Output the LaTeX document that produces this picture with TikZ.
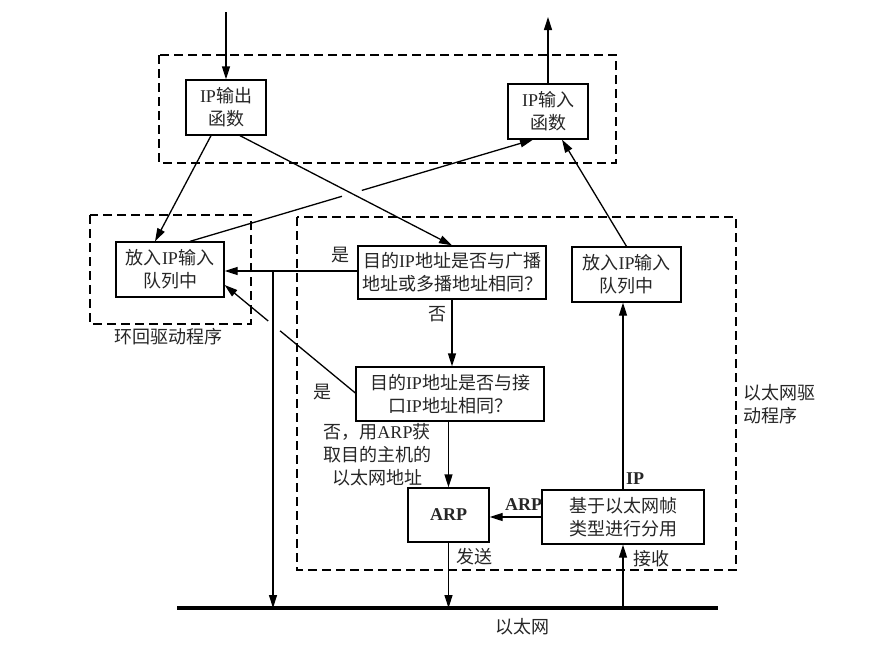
\documentclass[tikz,border=0pt]{standalone}
\usepackage{fontspec}
\setmainfont{Liberation Serif}
\newfontfamily\cjk{Noto Sans CJK SC}
\usetikzlibrary{arrows.meta,calc}
\newcommand\myL[1]{{\rmfamily #1}}
\newcommand\myB[1]{{\rmfamily\bfseries #1}}
\begin{document}
\begin{tikzpicture}[x=1pt,y=-1pt,
  every node/.style={font=\cjk\fontsize{18}{23}\selectfont},
  box/.style={draw, line width=1.3pt, inner sep=0pt, align=center, text=black!85},
  grp/.style={draw, line width=1.2pt, dash pattern=on 9pt off 5pt},
  conn/.style={line width=1.3pt},
  arr/.style={conn, -{Triangle[length=13pt,width=8pt]}},
  lbl/.style={inner sep=0pt, text=black!85},
]
\useasboundingbox[fill=white] (0,0) rectangle (890,645);

% boxes
\node[box, minimum width=80pt, minimum height=55pt] (ipout) at (226,107.5) {\myL{IP}输出\\函数};
\node[box, minimum width=80pt, minimum height=55pt] (ipin) at (548,111.5) {\myL{IP}输入\\函数};
\node[box, minimum width=108pt, minimum height=55pt] (qleft) at (170,269.5) {放入\myL{IP}输入\\队列中};
\node[box, minimum width=188pt, minimum height=53pt] (bcast) at (452,272.5) {目的\myL{IP}地址是否与广播\\地址或多播地址相同？};
\node[box, minimum width=188pt, minimum height=54pt] (iface) at (450,394) {目的\myL{IP}地址是否与接\\口\myL{IP}地址相同？};
\node[box, minimum width=109pt, minimum height=55pt] (qright) at (626.5,274.5) {放入\myL{IP}输入\\队列中};
\node[box, minimum width=81pt, minimum height=54pt] (arp) at (448.5,515) {\myB{ARP}};
\node[box, minimum width=162pt, minimum height=54pt] (demux) at (623,517) {基于以太网帧\\类型进行分用};

% free ends
\coordinate (in1) at (226,12);
\coordinate (out1) at (548,17);
\coordinate (busL) at (177,608);
\coordinate (busR) at (718,608);
\coordinate (j1) at (273,271);

% ethernet bus
\draw[line width=4pt] (busL) -- (busR);

% connectors
\draw[arr] (in1) -- (ipout.north);
\draw[arr] (ipin.north) -- (out1);
\draw[arr] ($(ipout.south)+(-15,0)$) -- ($(qleft.north)+(-15,0)$);
\draw[arr] ($(ipout.south)+(14,0)$) -- (bcast.north);
% queue -> IP input (broken where it crosses)
\coordinate (qs) at ($(qleft.north)+(20,0)$);
\coordinate (qe) at ($(ipin.south)+(-15,0)$);
\draw[conn] (qs) -- ($(qs)!0.443!(qe)$);
\draw[arr] ($(qs)!0.501!(qe)$) -- (qe);
% broadcast yes
\draw[arr] (j1 -| bcast.west) -- (j1 -| qleft.east);
\draw[arr] (j1) -- (j1 |- busL);
% interface yes (broken where it crosses)
\coordinate (ds) at ($(qleft.east)+(0,15.5)$);
\coordinate (de) at ($(iface.west)+(0,-1)$);
\draw[conn, {Triangle[length=13pt,width=8pt]}-] (ds) -- ($(ds)!0.333!(de)$);
\draw[conn] ($(ds)!0.424!(de)$) -- (de);
% no branches
\draw[arr] (bcast.south) -- (bcast.south |- iface.north);
\draw[arr] (arp.north |- iface.south) -- (arp.north);
\draw[arr] (arp.south) -- (arp.south |- busL);
\draw[arr] (demux.south |- busL) -- (demux.south);
\draw[arr] (demux.north) -- (demux.north |- qright.south);
\draw[arr] (demux.west) -- (demux.west -| arp.east);
\draw[arr] (qright.north) -- ($(ipin.south)+(14,0)$);

% group boxes
\draw[grp] (159,55) rectangle (616,163);
\draw[grp] (90,215) rectangle (251,324);
\draw[grp] (297,217) rectangle (736,570);

% labels
\node[lbl] (l1) at (340,255) {是};
\node[lbl] (l2) at (322,392) {是};
\node[lbl] (l3) at (437,314) {否};
\node[lbl, align=center] (l4) at (377,455) {否，用\myL{ARP}获\\取目的主机的\\以太网地址};
\node[lbl] (l5) at (635,479) {\myB{IP}};
\node[lbl] (l6) at (523.5,505) {\myB{ARP}};
\node[lbl] (l7) at (474.5,557) {发送};
\node[lbl] (l8) at (651.5,559) {接收};
\node[lbl] (l9) at (522,627) {以太网};
\node[lbl] (l10) at (168,337) {环回驱动程序};
\node[lbl, align=left, anchor=west] (l11) at (743,404) {以太网驱\\动程序};
\end{tikzpicture}
\end{document}
